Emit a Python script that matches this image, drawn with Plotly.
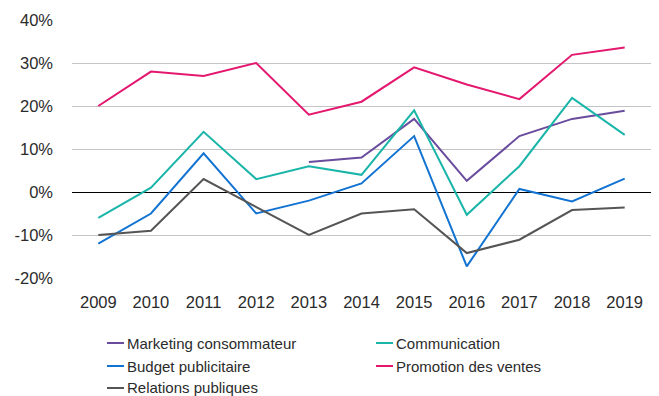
import plotly.graph_objects as go

# Annual change by budget item (%)
years = ["2009", "2010", "2011", "2012", "2013", "2014", "2015", "2016", "2017", "2018", "2019"]

marketing_consommateur = [None, None, None, None, 7.0, 8.0, 17.0, 2.6, 13.0, 17.0, 18.9]
communication = [-6.0, 1.0, 14.0, 3.0, 6.0, 4.0, 19.0, -5.3, 6.0, 21.9, 13.3]
budget_publicitaire = [-12.0, -5.0, 9.0, -5.0, -2.0, 2.0, 13.0, -17.3, 0.7, -2.2, 3.1]
promotion_des_ventes = [20.0, 28.0, 27.0, 30.0, 18.0, 21.0, 29.0, 25.0, 21.6, 31.9, 33.6]
relations_publiques = [-10.0, -9.0, 3.0, -3.5, -10.0, -5.0, -4.0, -14.2, -11.1, -4.2, -3.6]

y_ticks = [-20, -10, 0, 10, 20, 30, 40]

series = [
    ("Marketing consommateur", marketing_consommateur, "#6A4C9E"),
    ("Communication", communication, "#1AB5A9"),
    ("Budget publicitaire", budget_publicitaire, "#1273D2"),
    ("Promotion des ventes", promotion_des_ventes, "#E4176F"),
    ("Relations publiques", relations_publiques, "#555555"),
]

W, H = 659, 396
L, R, T, B = 72, 8, 20, 118
plot_w = W - L - R
plot_h = H - T - B

fig = go.Figure()
for name, values, color in series:
    fig.add_trace(go.Scatter(
        x=years, y=values, name=name, mode="lines",
        line=dict(color=color, width=2), connectgaps=False,
        showlegend=False,
    ))

# Custom legend: short line swatch followed by label, two columns
legend_items = [
    (series[0], 107, 343), (series[1], 376, 343),
    (series[2], 107, 366), (series[3], 376, 366),
    (series[4], 107, 388),
]

def px_x(px):
    return (px - L) / plot_w

def px_y(py):
    return (H - B - py) / plot_h

shapes = []
annotations = []
for (name, _, color), lx, ly in legend_items:
    shapes.append(dict(
        type="line", xref="paper", yref="paper",
        x0=px_x(lx), x1=px_x(lx + 17), y0=px_y(ly), y1=px_y(ly),
        line=dict(color=color, width=2),
    ))
    annotations.append(dict(
        xref="paper", yref="paper", x=px_x(lx + 18), y=px_y(ly),
        xanchor="left", yanchor="middle", showarrow=False,
        text=name, font=dict(size=15, color="#2b2b2b"),
    ))

fig.update_layout(
    width=W, height=H,
    margin=dict(l=L, r=R, t=T, b=B, pad=0),
    paper_bgcolor="white", plot_bgcolor="white",
    font=dict(family="Liberation Sans, Arial, sans-serif", color="#2b2b2b"),
    shapes=shapes, annotations=annotations,
    xaxis=dict(
        type="category", range=[-0.5, len(years) - 0.5],
        showgrid=False, showline=False, ticks="",
        tickfont=dict(size=16.5, color="#2b2b2b"), ticklabelstandoff=12,
    ),
    yaxis=dict(
        range=[-20, 40], tickvals=y_ticks,
        ticktext=[f"{v}%" for v in y_ticks],
        showgrid=True, gridcolor="#c4c4c4", gridwidth=1,
        zeroline=True, zerolinecolor="#000000", zerolinewidth=1,
        showline=False, ticks="",
        tickfont=dict(size=16.5, color="#2b2b2b"), ticklabelstandoff=18,
    ),
)

fig.write_html("out.html")
